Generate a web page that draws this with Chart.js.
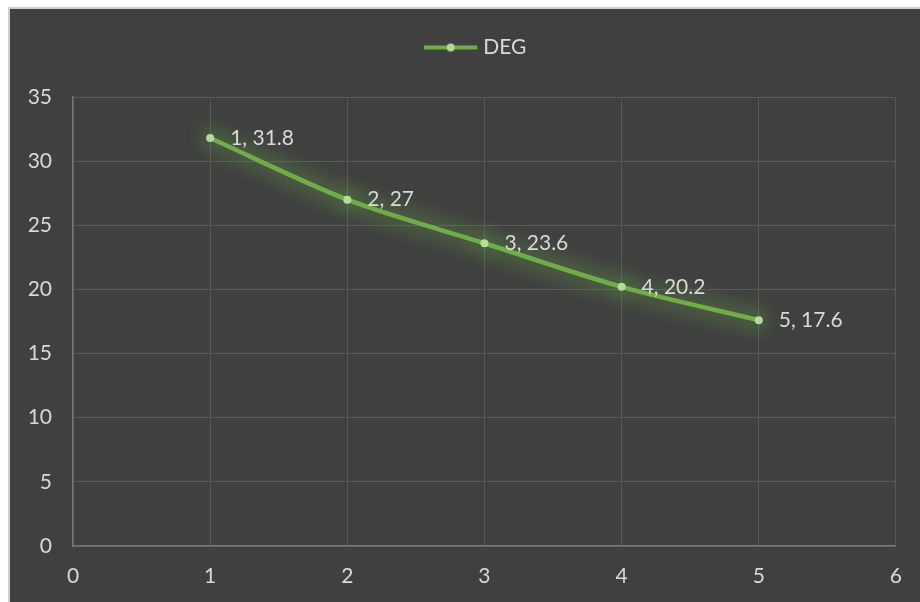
<!DOCTYPE html>
<html>
<head>
<meta charset="utf-8">
<script src="https://cdn.jsdelivr.net/npm/chart.js@4.4.1/dist/chart.umd.min.js"></script>
<style>
  html, body { margin: 0; padding: 0; background: #ffffff; }
  #frame {
    position: absolute; left: 8px; top: 7px;
    width: 910px; height: 593px;
    border-left: 2px solid #cfcfcf; border-top: 2px solid #cfcfcf;
    background: #404040;
  }
  canvas { display: block; }
</style>
</head>
<body>
<div id="frame"><canvas id="c" width="910" height="593"></canvas></div>
<script>
// Series data
const seriesName = 'DEG';
const xValues = [1, 2, 3, 4, 5];
const yValues = [31.8, 27, 23.6, 20.2, 17.6];
const xTicks = [0, 1, 2, 3, 4, 5, 6];
const yTicks = [0, 5, 10, 15, 20, 25, 30, 35];

const lineGreen = '#70ad47';
const markerGreen = '#b4dc98';
const textGrey = '#d9d9d9';
const gridGrey = '#585858';
const axisGrey = '#767676';
const fontFamily = 'Lato, "Open Sans", sans-serif';

// Legend swatch: short line with a dot in the middle
function legendSwatch() {
  const c = document.createElement('canvas');
  c.width = 54; c.height = 12;
  const g = c.getContext('2d');
  g.strokeStyle = lineGreen; g.lineWidth = 4; g.lineCap = 'butt';
  g.beginPath(); g.moveTo(0, 6); g.lineTo(53, 6); g.stroke();
  g.fillStyle = markerGreen;
  g.beginPath(); g.arc(26.5, 6, 4, 0, Math.PI * 2); g.fill();
  return c;
}
const swatch = legendSwatch();

// Soft glow behind the line and markers
const glowPlugin = {
  id: 'glow',
  beforeDatasetDraw(chart) {
    const ctx = chart.ctx;
    ctx.save();
    ctx.shadowColor = 'rgba(120, 215, 70, 1)';
    ctx.shadowBlur = 22;
  },
  afterDatasetDraw(chart) {
    chart.ctx.restore();
  }
};

// "x, y" labels to the right of each point
const pointLabels = {
  id: 'pointLabels',
  afterDatasetsDraw(chart) {
    const ctx = chart.ctx;
    const meta = chart.getDatasetMeta(0);
    ctx.save();
    ctx.font = '21px ' + fontFamily;
    ctx.fillStyle = textGrey;
    ctx.textAlign = 'left';
    ctx.textBaseline = 'middle';
    meta.data.forEach((pt, i) => {
      ctx.fillText(xValues[i] + ', ' + yValues[i], pt.x + 20, pt.y);
    });
    ctx.restore();
  }
};

// Extra room between the legend and the plot; legend sits a little right of centre
const legendSpacing = {
  id: 'legendSpacing',
  afterInit(chart) {
    const lg = chart.legend;
    if (!lg) return;
    const fit = lg.fit;
    lg.fit = function () {
      fit.call(this);
      this.height += 29;
    };
    const draw = lg.draw;
    lg.draw = function () {
      const ctx = this.ctx;
      ctx.save();
      ctx.translate(25, 0);
      draw.call(this);
      ctx.restore();
    };
  }
};

new Chart(document.getElementById('c'), {
  type: 'line',
  data: {
    datasets: [{
      label: seriesName,
      data: xValues.map((x, i) => ({ x: x, y: yValues[i] })),
      borderColor: lineGreen,
      backgroundColor: markerGreen,
      borderWidth: 4.5,
      tension: 0.3,
      pointRadius: 4,
      pointBorderWidth: 0,
      pointBackgroundColor: markerGreen,
      pointStyle: 'circle',
      fill: false
    }]
  },
  options: {
    responsive: false,
    animation: false,
    events: [],
    layout: { padding: { top: 18, right: 24, left: 0, bottom: 0 } },
    plugins: {
      legend: {
        position: 'top',
        labels: {
          usePointStyle: true,
          pointStyle: swatch,
          pointStyleWidth: 43,
          boxHeight: 12,
          color: textGrey,
          font: { family: fontFamily, size: 21 },
          padding: 10,
          generateLabels(chart) {
            return [{
              text: seriesName,
              fontColor: textGrey,
              pointStyle: swatch,
              fillStyle: lineGreen,
              strokeStyle: lineGreen,
              lineWidth: 0,
              datasetIndex: 0
            }];
          }
        }
      },
      tooltip: { enabled: false }
    },
    scales: {
      x: {
        type: 'linear',
        min: 0, max: 6,
        afterBuildTicks(scale) { scale.ticks = xTicks.map(v => ({ value: v })); },
        afterFit(scale) { scale.height = 56; },
        ticks: { color: textGrey, font: { family: fontFamily, size: 21 }, padding: 18, maxRotation: 0 },
        grid: { color: gridGrey, lineWidth: 1, drawTicks: false },
        border: { color: axisGrey, width: 1.5 }
      },
      y: {
        type: 'linear',
        min: 0, max: 35,
        afterBuildTicks(scale) { scale.ticks = yTicks.map(v => ({ value: v })); },
        afterFit(scale) { scale.width = 63; },
        ticks: { color: textGrey, font: { family: fontFamily, size: 21 }, padding: 21 },
        grid: { color: gridGrey, lineWidth: 1, drawTicks: false },
        border: { color: axisGrey, width: 1.5 }
      }
    }
  },
  plugins: [glowPlugin, pointLabels, legendSpacing]
});
</script>
</body>
</html>
